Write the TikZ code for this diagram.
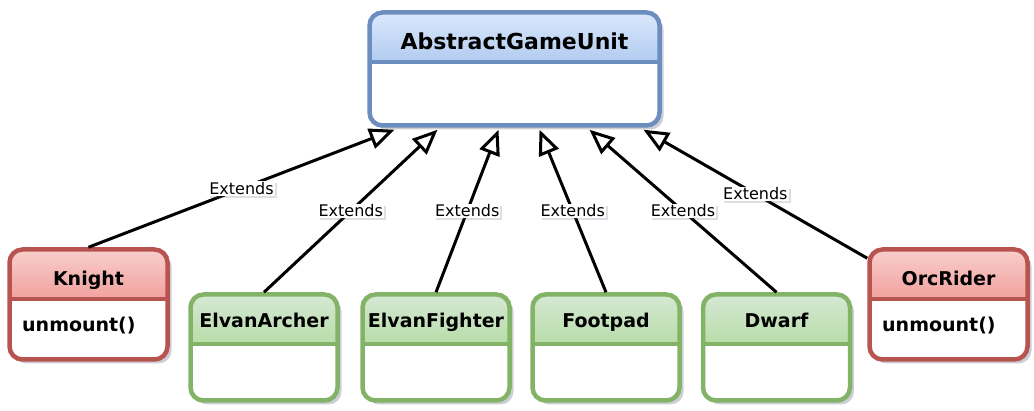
\documentclass[tikz,border=0pt]{standalone}
\usepackage{fontspec}
\setmainfont{DejaVu Sans}
\usetikzlibrary{arrows.meta,shadows}
\definecolor{blueline}{HTML}{6C8EBF}
\definecolor{bluetop}{HTML}{DAE8FC}
\definecolor{bluebot}{HTML}{7EA6E0}
\definecolor{redline}{HTML}{B85450}
\definecolor{redtop}{HTML}{F8CECC}
\definecolor{redbot}{HTML}{EA6B66}
\definecolor{greenline}{HTML}{82B366}
\definecolor{greentop}{HTML}{D5E8D4}
\definecolor{greenbot}{HTML}{97D077}
\definecolor{shadowcol}{HTML}{5A6078}
\begin{document}
\begin{tikzpicture}[x=1pt, y=-1pt,
		classbox/.style n args={3}{draw=#1, fill=white, line width=4.5pt, rounded corners=13pt,
			drop shadow={shadow xshift=4pt, shadow yshift=-4pt, opacity=.3, fill=shadowcol},
			path picture={
				\shade[sharp corners, top color=#2, bottom color=#3] (path picture bounding box.north west) rectangle ([yshift=-50pt]path picture bounding box.north east);
				\draw[sharp corners, #1, line width=4pt] ([yshift=-50pt]path picture bounding box.north west) -- ([yshift=-50pt]path picture bounding box.north east);}},
		topbox/.style={classbox={blueline}{bluetop}{bluebot}, minimum width=290pt, minimum height=113pt},
		redbox/.style={classbox={redline}{redtop}{redbot}, minimum width=158pt, minimum height=110pt},
		greenbox/.style={classbox={greenline}{greentop}{greenbot}, minimum width=147pt, minimum height=106pt},
		title/.style={anchor=base, font=\bfseries\fontsize{19}{19}\selectfont},
		method/.style={anchor=base west, inner sep=0pt, font=\bfseries\fontsize{19}{19}\selectfont},
		extends/.style={line width=3pt, -{Triangle[open, fill=white, length=25pt, width=21pt]}},
		lbl/.style={fill=white, inner sep=1pt, font=\fontsize{16}{16}\selectfont,
			drop shadow={shadow xshift=2pt, shadow yshift=-2pt, opacity=.2, fill=shadowcol}}]
	\useasboundingbox (0,0) rectangle (1034,411);
	% classes
	\node[topbox] (unit) at (514.5,69) {};
	\node[title, font=\bfseries\fontsize{22}{22}\selectfont] (unittitle) at (514.5,50) {AbstractGameUnit};
	\node[redbox] (knight) at (88.5,304.5) {};
	\node[title] (knighttitle) at (88.5,286) {Knight};
	\node[method] (knightop) at (22,332) {unmount()};
	\node[greenbox] (archer) at (264,347.5) {};
	\node[title] (archertitle) at (264,328) {ElvanArcher};
	\node[greenbox] (fighter) at (436,347.5) {};
	\node[title] (fightertitle) at (436,328) {ElvanFighter};
	\node[greenbox] (footpad) at (606,347.5) {};
	\node[title] (footpadtitle) at (606,328) {Footpad};
	\node[greenbox] (dwarf) at (776.5,347.5) {};
	\node[title] (dwarftitle) at (776.5,328) {Dwarf};
	\node[redbox] (orc) at (948.5,304.5) {};
	\node[title] (orctitle) at (948.5,286) {OrcRider};
	\node[method] (orcop) at (882,332) {unmount()};
	% generalisations
	\draw[extends] (knight.north) -- node[lbl] (lblknight) {Extends} ([xshift=-120pt,yshift=-2pt]unit.south);
	\draw[extends] (archer.north) -- node[lbl] (lblarcher) {Extends} ([xshift=-77pt,yshift=-2pt]unit.south);
	\draw[extends] (fighter.north) -- node[lbl] (lblfighter) {Extends} ([xshift=-16pt,yshift=-2pt]unit.south);
	\draw[extends] (footpad.north) -- node[lbl] (lblfootpad) {Extends} ([xshift=25pt,yshift=-2pt]unit.south);
	\draw[extends] (dwarf.north) -- node[lbl] (lbldwarf) {Extends} ([xshift=75pt,yshift=-2pt]unit.south);
	\draw[extends] ([yshift=-11pt]orc.north west) -- node[lbl] (lblorc) {Extends} ([xshift=129pt,yshift=-2pt]unit.south);
\end{tikzpicture}
\end{document}
